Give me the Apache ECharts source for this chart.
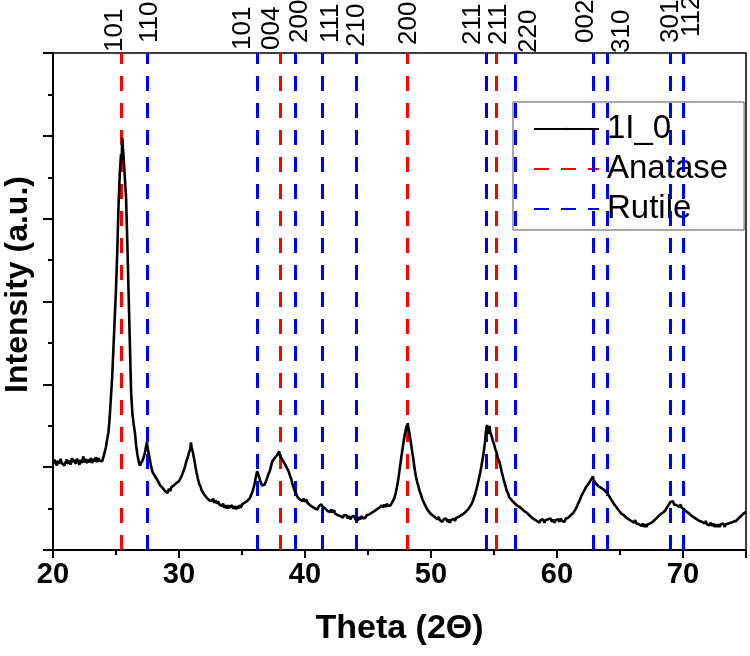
<!DOCTYPE html>
<html>
<head>
<meta charset="utf-8">
<script src="https://cdn.jsdelivr.net/npm/echarts@6/dist/echarts.min.js"></script>
<style>
  html, body { margin: 0; padding: 0; background: #fff; }
  #chart { width: 750px; height: 656px; }
</style>
</head>
<body>
<div id="chart"></div>
<script>
// XRD pattern of sample 1I_0, [2theta, intensity (a.u.)]
var pattern1I0 = [
  [20.0, 1.04], [20.1, 1.09], [20.2, 1.06], [20.3, 1.02], [20.4, 1.08], [20.5, 1.04], [20.6, 1.10], [20.7, 1.05],
  [20.8, 1.07], [20.9, 1.02], [21.0, 1.06], [21.1, 1.09], [21.2, 1.04], [21.3, 1.08], [21.4, 1.03], [21.5, 1.11],
  [21.6, 1.06], [21.7, 1.09], [21.8, 1.04], [21.9, 1.10], [22.0, 1.07], [22.1, 1.03], [22.2, 1.09], [22.3, 1.05],
  [22.4, 1.13], [22.5, 1.06], [22.6, 1.10], [22.7, 1.05], [22.8, 1.09], [22.9, 1.06], [23.0, 1.11], [23.1, 1.05],
  [23.2, 1.10], [23.3, 1.07], [23.4, 1.12], [23.5, 1.06], [23.6, 1.11], [23.7, 1.08], [23.8, 1.10], [23.9, 1.07],
  [24.0, 1.12], [24.1, 1.14], [24.2, 1.24], [24.3, 1.34], [24.4, 1.42], [24.5, 1.60], [24.6, 1.85], [24.7, 2.10],
  [24.8, 2.45], [24.9, 2.80], [25.0, 3.15], [25.1, 3.60], [25.2, 4.15], [25.3, 4.55], [25.4, 4.78], [25.45, 4.70],
  [25.5, 4.98], [25.55, 4.85], [25.6, 4.75], [25.7, 4.50], [25.8, 4.25], [25.9, 3.70], [26.0, 3.10], [26.1, 2.50],
  [26.2, 1.90], [26.3, 1.65], [26.4, 1.52], [26.5, 1.42], [26.6, 1.26], [26.7, 1.15], [26.8, 1.07], [26.9, 1.02],
  [27.0, 1.05], [27.1, 1.08], [27.2, 1.12], [27.3, 1.18], [27.45, 1.30], [27.55, 1.20], [27.7, 1.08], [27.8, 1.00],
  [27.9, 0.94], [28.0, 0.93], [28.1, 0.89], [28.2, 0.90], [28.3, 0.84], [28.4, 0.83], [28.5, 0.78], [28.6, 0.80],
  [28.7, 0.75], [28.8, 0.76], [28.9, 0.71], [29.0, 0.72], [29.1, 0.69], [29.2, 0.74], [29.3, 0.71], [29.4, 0.76],
  [29.5, 0.74], [29.6, 0.78], [29.7, 0.76], [29.8, 0.81], [29.9, 0.79], [30.0, 0.83], [30.1, 0.86], [30.2, 0.89],
  [30.3, 0.93], [30.4, 0.97], [30.5, 1.02], [30.6, 1.08], [30.7, 1.12], [30.8, 1.18], [30.9, 1.22], [30.95, 1.30],
  [31.0, 1.24], [31.1, 1.18], [31.2, 1.10], [31.3, 1.01], [31.4, 0.93], [31.5, 0.86], [31.6, 0.80], [31.7, 0.77],
  [31.8, 0.72], [31.9, 0.71], [32.0, 0.67], [32.1, 0.68], [32.2, 0.63], [32.3, 0.64], [32.4, 0.60], [32.5, 0.62],
  [32.6, 0.59], [32.7, 0.62], [32.8, 0.57], [32.9, 0.60], [33.0, 0.56], [33.1, 0.59], [33.2, 0.55], [33.3, 0.57],
  [33.4, 0.53], [33.5, 0.56], [33.6, 0.51], [33.7, 0.54], [33.8, 0.50], [33.9, 0.54], [34.0, 0.51], [34.1, 0.49],
  [34.2, 0.54], [34.3, 0.50], [34.4, 0.53], [34.5, 0.49], [34.6, 0.53], [34.7, 0.50], [34.8, 0.54], [34.9, 0.51],
  [35.0, 0.55], [35.1, 0.53], [35.2, 0.57], [35.3, 0.55], [35.4, 0.59], [35.5, 0.58], [35.6, 0.62], [35.7, 0.64],
  [35.8, 0.69], [35.9, 0.74], [36.0, 0.80], [36.1, 0.88], [36.2, 0.95], [36.25, 0.97], [36.3, 0.91], [36.4, 0.86],
  [36.5, 0.81], [36.6, 0.78], [36.7, 0.76], [36.8, 0.79], [36.9, 0.83], [37.0, 0.87], [37.1, 0.92], [37.2, 0.95],
  [37.3, 1.01], [37.4, 1.07], [37.5, 1.05], [37.6, 1.11], [37.7, 1.09], [37.8, 1.15], [37.9, 1.13], [37.95, 1.19],
  [38.0, 1.14], [38.1, 1.12], [38.2, 1.09], [38.3, 1.08], [38.4, 1.04], [38.5, 1.02], [38.6, 0.98], [38.7, 0.95],
  [38.8, 0.90], [38.9, 0.86], [39.0, 0.80], [39.1, 0.75], [39.2, 0.71], [39.3, 0.68], [39.4, 0.64], [39.5, 0.65],
  [39.6, 0.61], [39.7, 0.63], [39.8, 0.59], [39.9, 0.62], [40.0, 0.58], [40.1, 0.61], [40.2, 0.57], [40.3, 0.58],
  [40.4, 0.54], [40.5, 0.56], [40.6, 0.52], [40.7, 0.54], [40.8, 0.50], [40.9, 0.52], [41.0, 0.49], [41.1, 0.53],
  [41.2, 0.51], [41.3, 0.55], [41.4, 0.52], [41.5, 0.54], [41.6, 0.50], [41.7, 0.51], [41.8, 0.47], [41.9, 0.49],
  [42.0, 0.46], [42.1, 0.49], [42.2, 0.45], [42.3, 0.48], [42.4, 0.44], [42.5, 0.46], [42.6, 0.42], [42.7, 0.44],
  [42.8, 0.41], [42.9, 0.43], [43.0, 0.39], [43.1, 0.42], [43.2, 0.40], [43.3, 0.42], [43.4, 0.38], [43.5, 0.41],
  [43.6, 0.37], [43.7, 0.40], [43.8, 0.38], [43.9, 0.41], [44.0, 0.37], [44.1, 0.39], [44.2, 0.36], [44.3, 0.40],
  [44.4, 0.37], [44.5, 0.41], [44.6, 0.38], [44.7, 0.40], [44.8, 0.39], [44.9, 0.42], [45.0, 0.40], [45.1, 0.43],
  [45.2, 0.42], [45.3, 0.45], [45.4, 0.43], [45.5, 0.47], [45.6, 0.45], [45.7, 0.49], [45.8, 0.47], [45.9, 0.51],
  [46.0, 0.50], [46.1, 0.54], [46.2, 0.51], [46.3, 0.55], [46.4, 0.52], [46.5, 0.56], [46.6, 0.53], [46.7, 0.55],
  [46.8, 0.54], [46.9, 0.57], [47.0, 0.60], [47.1, 0.63], [47.2, 0.69], [47.3, 0.76], [47.4, 0.85], [47.5, 0.96],
  [47.6, 1.07], [47.7, 1.18], [47.8, 1.28], [47.9, 1.38], [48.0, 1.45], [48.05, 1.50], [48.1, 1.47], [48.15, 1.53],
  [48.2, 1.48], [48.3, 1.40], [48.4, 1.30], [48.5, 1.19], [48.6, 1.10], [48.7, 0.98], [48.8, 0.89], [48.9, 0.82],
  [49.0, 0.77], [49.1, 0.71], [49.2, 0.67], [49.3, 0.62], [49.4, 0.60], [49.5, 0.55], [49.6, 0.54], [49.7, 0.49],
  [49.8, 0.50], [49.9, 0.45], [50.0, 0.47], [50.1, 0.42], [50.2, 0.44], [50.3, 0.40], [50.4, 0.42], [50.5, 0.37],
  [50.6, 0.40], [50.7, 0.36], [50.8, 0.38], [50.9, 0.34], [51.0, 0.37], [51.1, 0.35], [51.2, 0.38], [51.3, 0.34],
  [51.4, 0.37], [51.5, 0.33], [51.6, 0.36], [51.7, 0.34], [51.8, 0.38], [51.9, 0.35], [52.0, 0.39], [52.1, 0.37],
  [52.2, 0.40], [52.3, 0.38], [52.4, 0.42], [52.5, 0.40], [52.6, 0.44], [52.7, 0.43], [52.8, 0.47], [52.9, 0.46],
  [53.0, 0.50], [53.1, 0.51], [53.2, 0.55], [53.3, 0.58], [53.4, 0.63], [53.5, 0.67], [53.6, 0.73], [53.7, 0.79],
  [53.8, 0.86], [53.9, 0.93], [54.0, 1.01], [54.1, 1.10], [54.2, 1.20], [54.3, 1.32], [54.35, 1.42], [54.4, 1.46],
  [54.45, 1.51], [54.5, 1.44], [54.55, 1.40], [54.6, 1.47], [54.65, 1.50], [54.7, 1.42], [54.8, 1.38], [54.9, 1.32],
  [55.0, 1.28], [55.1, 1.22], [55.2, 1.18], [55.3, 1.11], [55.4, 1.08], [55.5, 1.02], [55.6, 0.95], [55.7, 0.89],
  [55.8, 0.83], [55.9, 0.78], [56.0, 0.72], [56.1, 0.69], [56.2, 0.64], [56.3, 0.63], [56.4, 0.60], [56.5, 0.61],
  [56.6, 0.57], [56.7, 0.58], [56.8, 0.54], [56.9, 0.56], [57.0, 0.52], [57.1, 0.54], [57.2, 0.50], [57.3, 0.51],
  [57.4, 0.47], [57.5, 0.49], [57.6, 0.45], [57.7, 0.46], [57.8, 0.42], [57.9, 0.43], [58.0, 0.39], [58.1, 0.41],
  [58.2, 0.37], [58.3, 0.39], [58.4, 0.35], [58.5, 0.37], [58.6, 0.33], [58.7, 0.36], [58.8, 0.34], [58.9, 0.37],
  [59.0, 0.33], [59.1, 0.36], [59.2, 0.34], [59.3, 0.37], [59.4, 0.35], [59.5, 0.38], [59.6, 0.34], [59.7, 0.37],
  [59.8, 0.33], [59.9, 0.36], [60.0, 0.35], [60.1, 0.37], [60.2, 0.34], [60.3, 0.38], [60.4, 0.35], [60.5, 0.37],
  [60.6, 0.34], [60.7, 0.38], [60.8, 0.36], [60.9, 0.39], [61.0, 0.38], [61.1, 0.42], [61.2, 0.41], [61.3, 0.45],
  [61.4, 0.46], [61.5, 0.50], [61.6, 0.53], [61.7, 0.57], [61.8, 0.60], [61.9, 0.64], [62.0, 0.67], [62.1, 0.70],
  [62.2, 0.72], [62.3, 0.76], [62.4, 0.75], [62.5, 0.80], [62.6, 0.81], [62.7, 0.85], [62.8, 0.86], [62.85, 0.89],
  [62.9, 0.85], [63.0, 0.84], [63.1, 0.80], [63.2, 0.81], [63.3, 0.77], [63.4, 0.78], [63.5, 0.75], [63.6, 0.77],
  [63.7, 0.73], [63.8, 0.74], [63.9, 0.70], [64.0, 0.71], [64.1, 0.66], [64.2, 0.65], [64.3, 0.61], [64.4, 0.60],
  [64.5, 0.56], [64.6, 0.56], [64.7, 0.52], [64.8, 0.51], [64.9, 0.48], [65.0, 0.48], [65.1, 0.44], [65.2, 0.45],
  [65.3, 0.42], [65.4, 0.43], [65.5, 0.39], [65.6, 0.41], [65.7, 0.37], [65.8, 0.39], [65.9, 0.35], [66.0, 0.37],
  [66.1, 0.33], [66.2, 0.36], [66.3, 0.32], [66.4, 0.34], [66.5, 0.31], [66.6, 0.33], [66.7, 0.29], [66.8, 0.32],
  [66.9, 0.28], [67.0, 0.31], [67.1, 0.28], [67.2, 0.31], [67.3, 0.29], [67.4, 0.32], [67.5, 0.31], [67.6, 0.34],
  [67.7, 0.33], [67.8, 0.37], [67.9, 0.36], [68.0, 0.40], [68.1, 0.39], [68.2, 0.43], [68.3, 0.42], [68.4, 0.45],
  [68.5, 0.45], [68.6, 0.48], [68.7, 0.50], [68.8, 0.53], [68.9, 0.55], [69.0, 0.58], [69.1, 0.56], [69.2, 0.59],
  [69.3, 0.55], [69.4, 0.57], [69.5, 0.54], [69.6, 0.56], [69.7, 0.52], [69.8, 0.55], [69.9, 0.51], [70.0, 0.53],
  [70.1, 0.49], [70.2, 0.50], [70.3, 0.46], [70.4, 0.48], [70.5, 0.44], [70.6, 0.45], [70.7, 0.41], [70.8, 0.43],
  [70.9, 0.39], [71.0, 0.41], [71.1, 0.37], [71.2, 0.39], [71.3, 0.35], [71.4, 0.37], [71.5, 0.34], [71.6, 0.36],
  [71.7, 0.32], [71.8, 0.35], [71.9, 0.31], [72.0, 0.33], [72.1, 0.30], [72.2, 0.33], [72.3, 0.29], [72.4, 0.32],
  [72.5, 0.28], [72.6, 0.31], [72.7, 0.28], [72.8, 0.31], [72.9, 0.28], [73.0, 0.31], [73.1, 0.29], [73.2, 0.32],
  [73.3, 0.28], [73.4, 0.31], [73.5, 0.29], [73.6, 0.32], [73.7, 0.30], [73.8, 0.33], [73.9, 0.31], [74.0, 0.34],
  [74.1, 0.32], [74.2, 0.35], [74.3, 0.34], [74.4, 0.38], [74.5, 0.37], [74.6, 0.41], [74.7, 0.40], [74.8, 0.44],
  [74.9, 0.43], [75.0, 0.46]
];

// reference peak positions (2theta) and hkl
var anatasePeaks = [25.4, 38.0, 48.1, 55.2];
var anataseHkl = ['101', '004', '200', '211'];
var rutilePeaks = [27.5, 36.2, 39.2, 41.4, 44.1, 54.4, 56.7, 62.9, 64.0, 69.0, 70.0];
var rutileHkl = ['110', '101', '200', '111', '210', '211', '220', '002', '310', '301', '112'];

var xTicks = { min: 20, max: 75, step: 10 };
var yTicks = { min: 0, max: 6, step: 1 };

// hand nudges [right, down] in screen px so the crowded hkl labels sit like in the figure
var anataseLabelNudge = [[-6, -1], [-8, -3], [2, -8], [2, -8]];
var rutileLabelNudge = [[2, -10], [-14, -3], [5, -10], [8, -10], [0, -6], [-14, -8], [13, 0], [-8, -10], [14, 0], [0, -10], [9, -16]];

var chart = echarts.init(document.getElementById('chart'));

var boldText = {
  fontFamily: '"Liberation Sans", Arial, sans-serif',
  fontWeight: 'bold',
  color: '#000'
};

function refLines(peaks) {
  return peaks.map(function (p) { return { xAxis: p }; });
}

function hklLabels(peaks, hkl, nudge) {
  return peaks.map(function (p, i) {
    // label offset is applied in the rotated text frame
    return {
      value: [p, yTicks.max],
      label: { formatter: hkl[i], offset: [-nudge[i][1], nudge[i][0]] }
    };
  });
}

var hklLabel = {
  show: true,
  position: 'top',
  distance: 0,
  rotate: 90,
  align: 'left',
  verticalAlign: 'middle',
  fontFamily: '"Liberation Sans", Arial, sans-serif',
  fontSize: 26,
  color: '#000',
  opacity: 1
};

var option = {
  animation: false,
  backgroundColor: '#fff',
  grid: {
    left: 53, right: 4, top: 53, bottom: 106,
    outerBoundsMode: 'none',
    containLabel: false,
    show: true,
    borderColor: '#000',
    borderWidth: 1.5
  },
  legend: {
    orient: 'vertical',
    left: 513,
    top: 102,
    data: ['1I_0', 'Anatase', 'Rutile'],
    backgroundColor: '#fff',
    borderColor: '#555',
    borderWidth: 1,
    padding: [10, 16, 4, 20],
    itemGap: 6,
    itemWidth: 65,
    itemHeight: 3,
    textStyle: {
      fontFamily: '"Liberation Sans", Arial, sans-serif',
      fontSize: 33,
      lineHeight: 34,
      color: '#000',
      padding: [0, 0, 0, 3]
    }
  },
  xAxis: {
    type: 'value',
    min: xTicks.min,
    max: xTicks.max,
    interval: xTicks.step,
    name: 'Theta (2\u0398)',
    nameLocation: 'middle',
    nameGap: 62,
    nameTextStyle: Object.assign({ fontSize: 34 }, boldText),
    axisLine: { onZero: false, lineStyle: { color: '#000', width: 2 } },
    axisTick: { show: true, length: 8, lineStyle: { color: '#000', width: 2 } },
    minorTick: { show: true, splitNumber: 2, length: 5, lineStyle: { color: '#000', width: 2 } },
    axisLabel: Object.assign({ fontSize: 29, margin: 10, showMaxLabel: false }, boldText),
    splitLine: { show: false }
  },
  yAxis: {
    type: 'value',
    min: yTicks.min,
    max: yTicks.max,
    interval: yTicks.step,
    name: 'Intensity (a.u.)',
    nameLocation: 'middle',
    nameGap: 19,
    nameTextStyle: Object.assign({ fontSize: 32, padding: [0, 0, 0, 34] }, boldText),
    axisLine: { show: true, lineStyle: { color: '#000', width: 2 } },
    axisTick: { show: true, length: 10, lineStyle: { color: '#000', width: 2 } },
    minorTick: { show: true, splitNumber: 2, length: 5, lineStyle: { color: '#000', width: 2 } },
    axisLabel: { show: false },
    splitLine: { show: false }
  },
  series: [
    {
      name: 'Anatase',
      type: 'line',
      data: [],
      symbol: 'none',
      color: '#ff0000',
      lineStyle: { color: '#ff0000', width: 3, type: [15, 12] },
      markLine: {
        silent: true,
        symbol: 'none',
        label: { show: false },
        lineStyle: { color: '#ff0000', width: 3, type: [15, 12] },
        data: refLines(anatasePeaks)
      }
    },
    {
      name: 'Rutile',
      type: 'line',
      data: [],
      symbol: 'none',
      color: '#0000ff',
      lineStyle: { color: '#0000ff', width: 3, type: [15, 12] },
      markLine: {
        silent: true,
        symbol: 'none',
        label: { show: false },
        lineStyle: { color: '#0000ff', width: 3, type: [15, 12] },
        data: refLines(rutilePeaks)
      }
    },
    {
      name: '1I_0',
      type: 'line',
      data: pattern1I0,
      symbol: 'none',
      color: '#000',
      lineStyle: { color: '#000', width: 2.6 },
      z: 5
    },
    {
      name: 'hkl',
      type: 'scatter',
      symbolSize: 0,
      silent: true,
      clip: false,
      itemStyle: { opacity: 1, color: '#000' },
      label: hklLabel,
      data: hklLabels(anatasePeaks, anataseHkl, anataseLabelNudge)
        .concat(hklLabels(rutilePeaks, rutileHkl, rutileLabelNudge))
    }
  ]
};

chart.setOption(option);
</script>
</body>
</html>
